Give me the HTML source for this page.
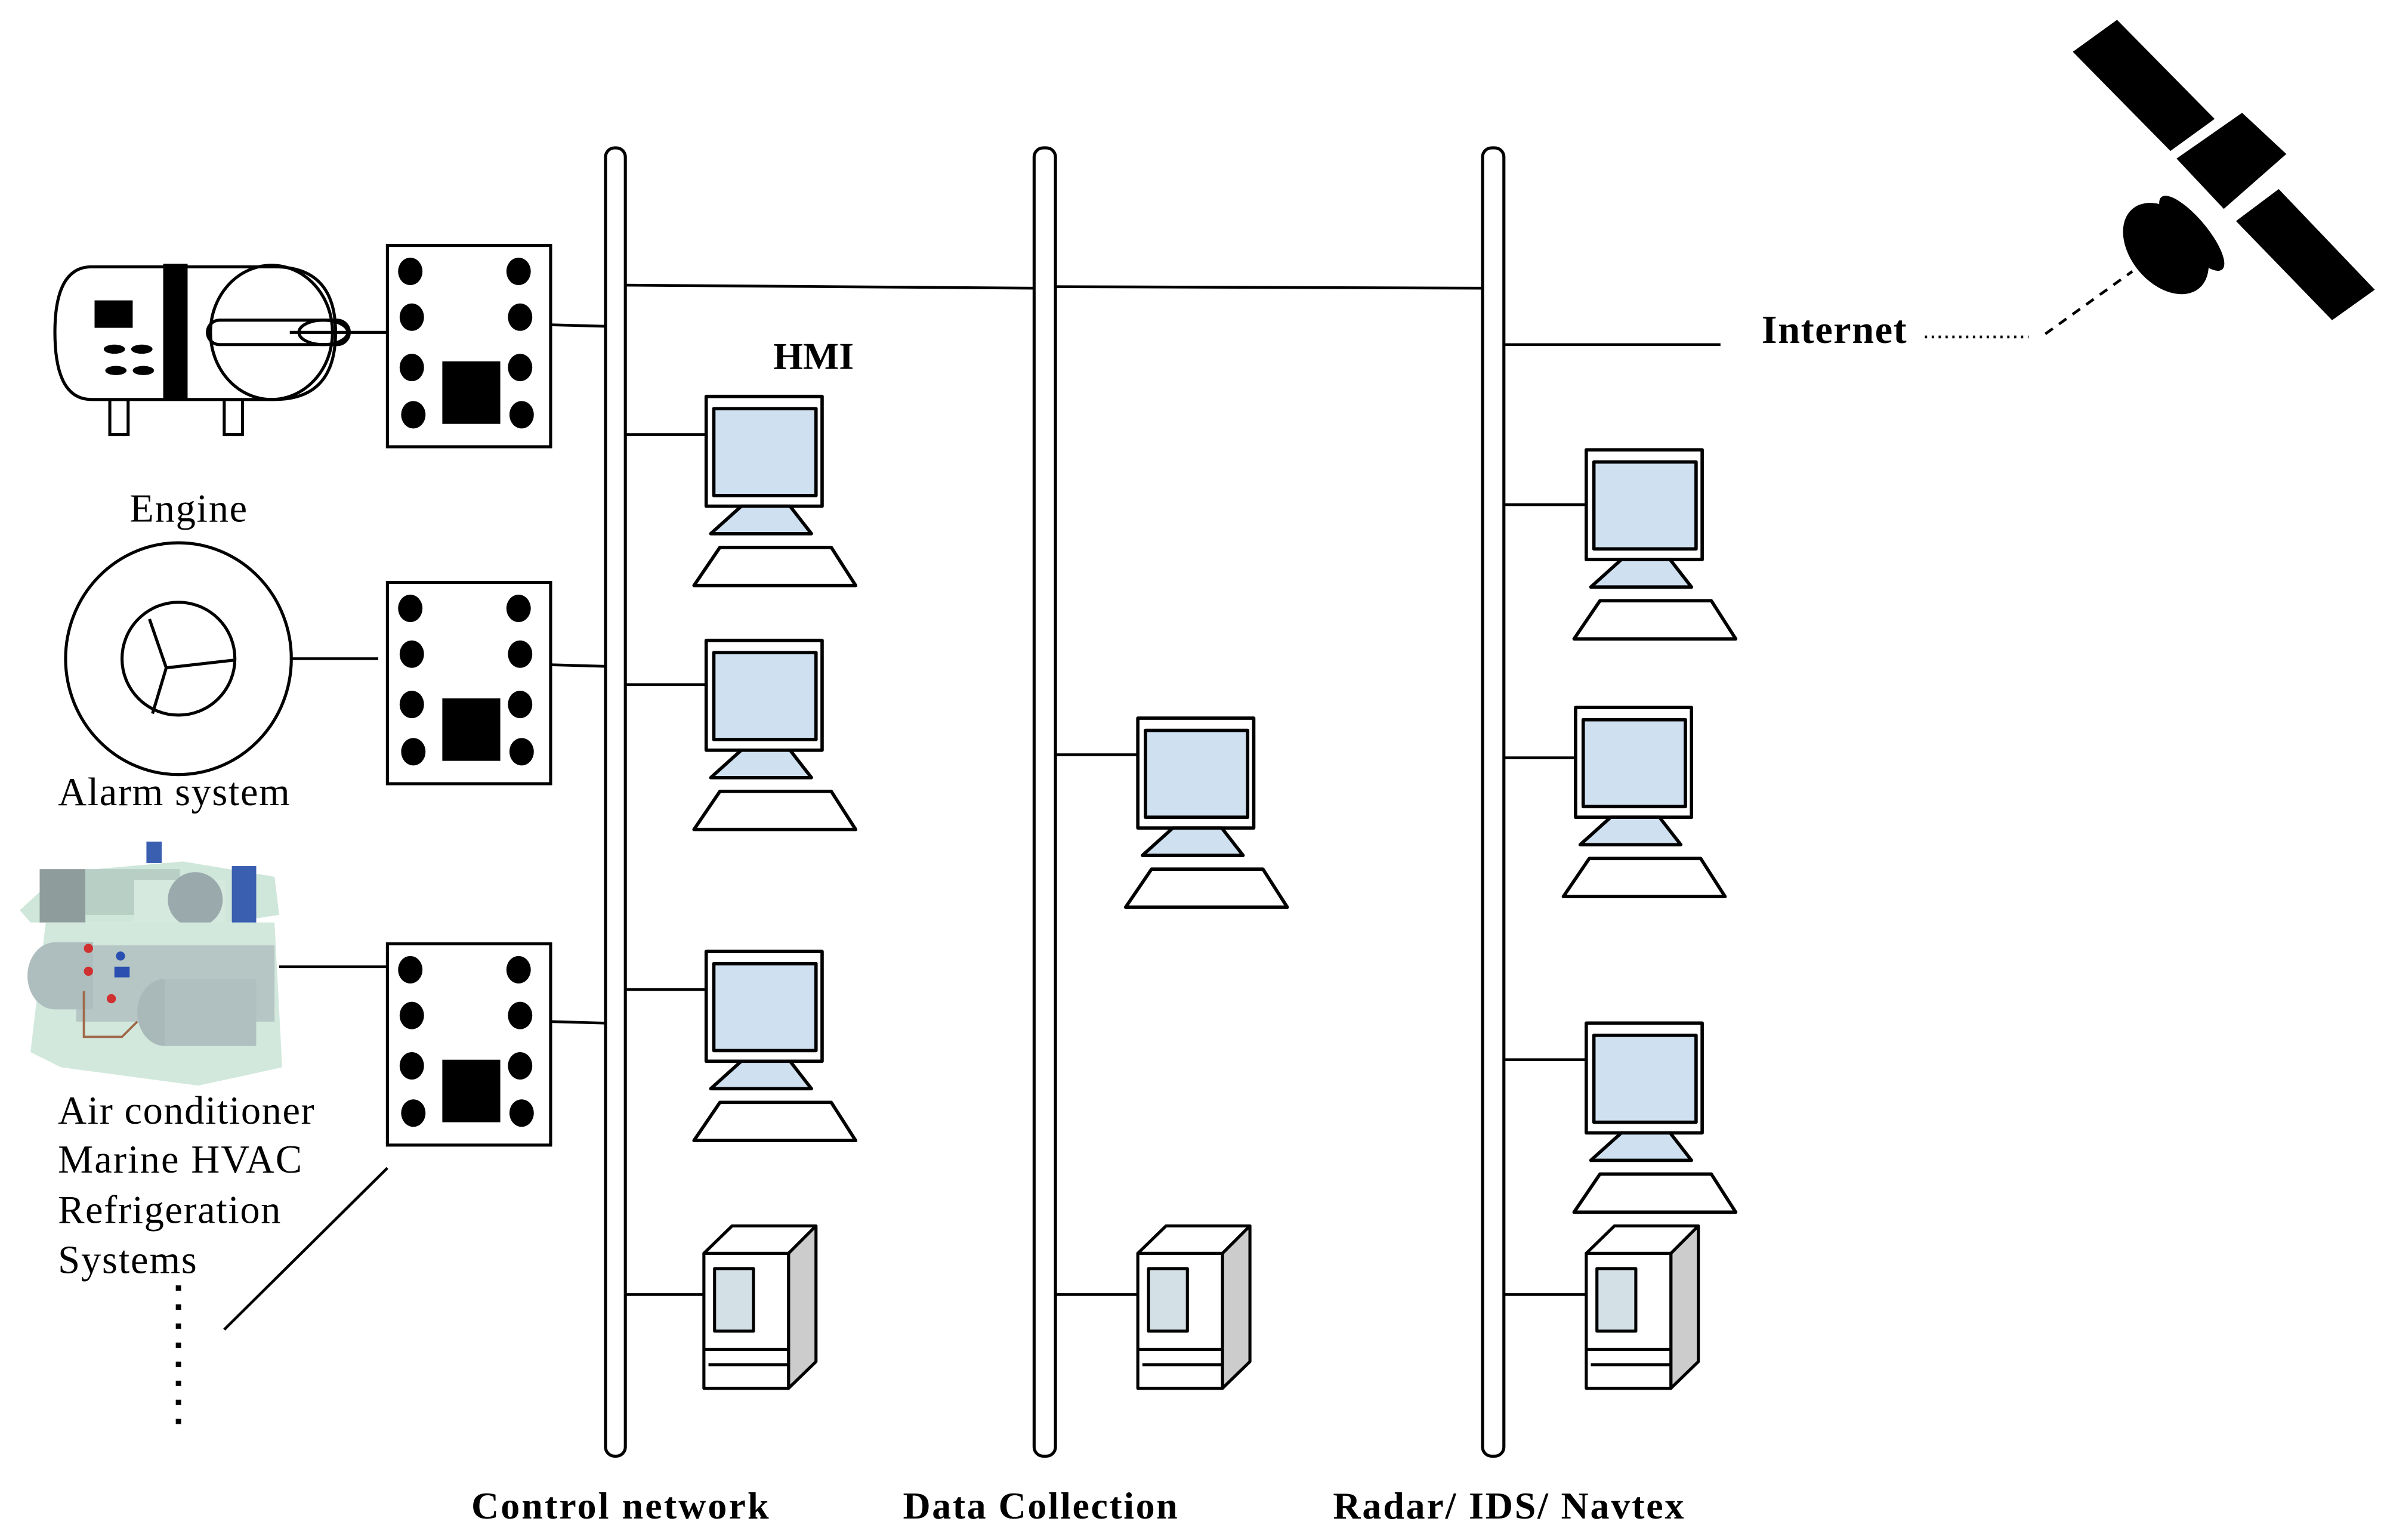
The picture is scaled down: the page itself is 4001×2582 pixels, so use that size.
<!DOCTYPE html>
<html><head><meta charset="utf-8"><style>html,body{margin:0;padding:0;background:#fff}svg{display:block}</style></head>
<body>
<svg width="4001" height="2582" viewBox="0 0 1565 1010" preserveAspectRatio="none" xmlns="http://www.w3.org/2000/svg" font-family="Liberation Serif, serif">
<defs>
<g id="pc" stroke="#000" stroke-width="2.2" stroke-linejoin="round">
  <rect x="0" y="0" width="76" height="72" fill="#fff"/>
  <rect x="5" y="8" width="67" height="57" fill="#cfe0f0"/>
  <polygon points="23,72 55,72 69,90 3,90" fill="#cfe0f0"/>
  <polygon points="9,99 82,99 98,124 -8,124" fill="#fff"/>
</g>
<g id="srv" stroke="#000" stroke-width="2" stroke-linejoin="round">
  <polygon points="0,18 18.5,0 73.5,0 55.5,18" fill="#fff"/>
  <polygon points="55.5,18 73.5,0 73.5,89 55.5,106.5" fill="#ccc"/>
  <rect x="0" y="18" width="55.5" height="88.5" fill="#fff"/>
  <rect x="7" y="28" width="25.5" height="41" fill="#d3e1e6"/>
  <line x1="0" y1="81" x2="55.5" y2="81"/>
  <line x1="3" y1="91" x2="55.5" y2="91"/>
</g>
<g id="ctl">
  <rect x="0" y="0" width="107" height="132" fill="#fff" stroke="#000" stroke-width="2"/>
  <g fill="#000">
  <ellipse cx="15" cy="17" rx="8" ry="9"/><ellipse cx="86" cy="17" rx="8" ry="9"/>
  <ellipse cx="16" cy="47" rx="8" ry="9"/><ellipse cx="87" cy="47" rx="8" ry="9"/>
  <ellipse cx="16" cy="80" rx="8" ry="9"/><ellipse cx="87" cy="80" rx="8" ry="9"/>
  <ellipse cx="17" cy="111" rx="8" ry="9"/><ellipse cx="88" cy="111" rx="8" ry="9"/>
  <rect x="36" y="76" width="38" height="41"/>
  </g>
</g>
</defs>

<g fill="#fff" stroke="#000" stroke-width="2">
<rect x="397" y="97" width="13" height="858" rx="6"/>
<rect x="678" y="97" width="14" height="858" rx="6"/>
<rect x="972" y="97" width="14" height="858" rx="6"/>
</g>

<g stroke="#000" stroke-width="1.8" fill="none">
<line x1="410" y1="187" x2="678" y2="189"/>
<line x1="692" y1="188" x2="972" y2="189"/>
<line x1="361" y1="213" x2="397" y2="214"/>
<line x1="361" y1="436" x2="397" y2="437"/>
<line x1="361" y1="670" x2="397" y2="671"/>
<line x1="410" y1="285" x2="463" y2="285"/>
<line x1="410" y1="449" x2="463" y2="449"/>
<line x1="410" y1="649" x2="463" y2="649"/>
<line x1="410" y1="849" x2="462" y2="849"/>
<line x1="692" y1="495" x2="746" y2="495"/>
<line x1="692" y1="849" x2="746" y2="849"/>
<line x1="986" y1="226" x2="1128" y2="226"/>
<line x1="986" y1="331" x2="1040" y2="331"/>
<line x1="986" y1="497" x2="1033" y2="497"/>
<line x1="986" y1="695" x2="1040" y2="695"/>
<line x1="986" y1="849" x2="1040" y2="849"/>
<line x1="254" y1="766" x2="147" y2="872"/>
<line x1="183" y1="634" x2="254" y2="634"/>
<line x1="190" y1="432" x2="248" y2="432"/>
<line x1="1262" y1="221" x2="1330" y2="221" stroke-dasharray="1.5 3"/>
<line x1="1341" y1="219" x2="1398" y2="178" stroke-dasharray="6 5"/>
</g>
<line x1="117" y1="843" x2="117" y2="937" stroke="#000" stroke-width="3.5" stroke-dasharray="3.5 9"/>

<use href="#ctl" x="254" y="161"/>
<use href="#ctl" x="254" y="382"/>
<use href="#ctl" x="254" y="619"/>

<use href="#pc" x="463" y="260"/>
<use href="#pc" x="463" y="420"/>
<use href="#pc" x="463" y="624"/>
<use href="#pc" x="746" y="471"/>
<use href="#pc" x="1040" y="295"/>
<use href="#pc" x="1033" y="464"/>
<use href="#pc" x="1040" y="671"/>
<use href="#srv" x="461.5" y="804"/>
<use href="#srv" x="746" y="804"/>
<use href="#srv" x="1040" y="804"/>

<!-- engine -->
<g stroke="#000" stroke-width="2" fill="none">
<rect x="72" y="262" width="12" height="23" fill="#fff"/>
<rect x="147" y="262" width="12" height="23" fill="#fff"/>
<path d="M60,175 H180 Q220,175 220,218 Q220,262 180,262 H60 Q36,262 36,218 Q36,175 60,175 Z" fill="#fff"/>
<ellipse cx="178" cy="218" rx="40" ry="44"/>
<rect x="136" y="210" width="93" height="16" rx="8"/>
<ellipse cx="212" cy="218" rx="16" ry="8"/>
<line x1="190" y1="218" x2="254" y2="218"/>
</g>
<g fill="#000">
<rect x="107" y="173" width="16" height="89"/>
<rect x="62" y="197" width="25" height="18"/>
<ellipse cx="75" cy="229" rx="7" ry="3"/><ellipse cx="93" cy="229" rx="7" ry="3"/>
<ellipse cx="76" cy="243" rx="7" ry="3"/><ellipse cx="94" cy="243" rx="7" ry="3"/>
</g>

<!-- alarm -->
<g stroke="#000" stroke-width="2" fill="none">
<ellipse cx="117" cy="432" rx="74" ry="76"/>
<circle cx="117" cy="432" r="37"/>
<polyline points="98,406 109,438 100,468"/>
<line x1="109" y1="438" x2="153" y2="433"/>
</g>

<!-- HVAC -->
<g>
<polygon points="13,597 40,572 120,565 180,575 183,600 150,605 20,605" fill="#cfe6da"/>
<rect x="26" y="570" width="30" height="35" fill="#8f9c9c"/>
<rect x="56" y="570" width="62" height="30" fill="#b8cfc6"/>
<rect x="88" y="577" width="60" height="40" fill="#d6e9df"/>
<circle cx="128" cy="590" r="18" fill="#9aa9ab"/>
<rect x="152" y="568" width="16" height="40" fill="#3a5fb0"/>
<rect x="96" y="552" width="10" height="14" fill="#3a5fb0"/>
<polygon points="20,690 30,605 180,605 185,700 130,712 40,700" fill="#d2e8dd"/>
<rect x="50" y="620" width="130" height="50" fill="#b6c6c5"/>
<ellipse cx="36" cy="640" rx="18" ry="22" fill="#aebdbd"/>
<rect x="36" y="618" width="25" height="44" fill="#aebdbd"/>
<ellipse cx="108" cy="664" rx="18" ry="22" fill="#a9b8b8"/>
<rect x="108" y="642" width="60" height="44" fill="#b0bfbf"/>
<circle cx="58" cy="622" r="3" fill="#d03030"/><circle cx="58" cy="637" r="3" fill="#d03030"/><circle cx="73" cy="655" r="3" fill="#d03030"/>
<circle cx="79" cy="627" r="3" fill="#2a4fb0"/><rect x="75" y="634" width="10" height="7" fill="#2a4fb0"/>
<polyline points="55,650 55,680 80,680 90,670" fill="none" stroke="#a06a4a" stroke-width="1.5"/>
</g>

<!-- satellite -->
<g fill="#000">
<polygon points="1388,13 1452,78 1423,99 1359,34"/>
<polygon points="1470,74 1499,101 1458,137 1427,104"/>
<polygon points="1494,124 1557,190 1529,210 1466,145"/>
<ellipse cx="1420" cy="163" rx="23" ry="34" transform="rotate(-40 1420 163)"/>
<ellipse cx="1437" cy="153" rx="10" ry="31" transform="rotate(-40 1437 153)"/>
</g>

<g fill="#000" font-size="26">
<text x="85" y="342" textLength="77">Engine</text>
<text x="38" y="528" textLength="152">Alarm system</text>
<text x="38" y="737" textLength="168">Air conditioner</text>
<text x="38" y="769" textLength="160">Marine HVAC</text>
<text x="38" y="802" textLength="146">Refrigeration</text>
<text x="38" y="835" textLength="91">Systems</text>
</g>
<g fill="#000" font-size="25" font-weight="bold">
<text x="507" y="242">HMI</text>
<text x="1155" y="225" font-size="26" textLength="95">Internet</text>
<text x="309" y="996" textLength="195">Control network</text>
<text x="592" y="996" textLength="180">Data Collection</text>
<text x="874" y="996" textLength="230">Radar/ IDS/ Navtex</text>
</g>
</svg>
</body></html>
